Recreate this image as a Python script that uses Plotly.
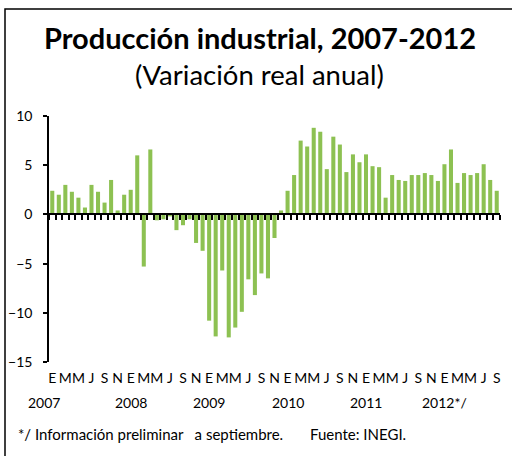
import plotly.graph_objects as go

# Monthly annual variation, Jan 2007 - Sep 2012
v2007 = [2.4, 2.0, 3.0, 2.3, 1.7, 0.7, 3.0, 2.3, 1.2, 3.5, 0.4, 2.0]
v2008 = [2.5, 6.0, -5.3, 6.6, -0.6, -0.5, -0.2, -1.6, -1.1, -0.5, -2.9, -3.7]
v2009 = [-10.8, -12.4, -5.7, -12.5, -11.5, -9.9, -6.6, -8.2, -6.0, -6.5, -2.4, 0.4]
v2010 = [2.4, 4.0, 7.5, 6.9, 8.8, 8.4, 4.6, 7.9, 7.1, 4.3, 6.1, 5.3]
v2011 = [6.1, 4.9, 4.8, 1.7, 4.0, 3.5, 3.4, 4.0, 4.0, 4.2, 4.0, 3.4]
v2012 = [5.1, 6.6, 3.2, 4.2, 4.0, 4.2, 5.1, 3.5, 2.4]

values = v2007 + v2008 + v2009 + v2010 + v2011 + v2012
idx = list(range(len(values)))

month_letters = ['E', 'F', 'M', 'A', 'M', 'J', 'J', 'A', 'S', 'O', 'N', 'D']
years = ['2007', '2008', '2009', '2010', '2011', '2012*/']

# every other month gets a letter
tick_pos = [i for i in idx if i % 2 == 0]
tick_txt = [month_letters[i % 12] for i in tick_pos]
year_pos = [i for i in idx if i % 12 == 0]

FONT = 'Lato'

fig = go.Figure()

fig.add_trace(go.Bar(
    x=idx, y=values,
    marker=dict(color='#8DC152', line=dict(width=0)),
    showlegend=False, hoverinfo='y'
))

# invisible trace so the zero-line axis gets drawn
fig.add_trace(go.Scatter(
    x=idx, y=values, xaxis='x2', mode='none',
    showlegend=False, hoverinfo='skip'
))

# px helpers for the frame (plot area 49..500 x, 116..362 y)
L, R, T, B = 49, 500, 116, 362
def px_x(p):
    return (p - L) / (R - L)
def px_y(p):
    return (B - p) / (B - T)

annotations = [
    dict(text='(Variación real anual)', xref='paper', yref='paper',
         x=px_x(259), y=px_y(75), xanchor='center', yanchor='middle',
         showarrow=False, font=dict(family=FONT, size=27.5, color='black')),
    dict(text='*/ Información preliminar   a septiembre.       Fuente: INEGI.',
         xref='paper', yref='paper', x=px_x(16), y=px_y(434),
         xanchor='left', yanchor='middle', showarrow=False,
         font=dict(family=FONT, size=15, color='black')),
]
for yr, pos in zip(years, year_pos):
    annotations.append(dict(
        text=yr, xref='x', yref='paper', x=pos, y=px_y(402),
        xanchor='center', yanchor='middle', showarrow=False,
        xshift=-8 if pos == 0 else 0,
        font=dict(family=FONT, size=14, color='black')))

fig.update_layout(
    width=512, height=456,
    margin=dict(l=L, r=512 - R, t=T, b=456 - B, autoexpand=False),
    paper_bgcolor='white', plot_bgcolor='white',
    bargap=0.38,
    title=dict(text='<b>Producción industrial, 2007-2012</b>',
               x=px_x(260), xref='paper', xanchor='center',
               y=1 - 39 / 456, yanchor='middle',
               font=dict(family=FONT, size=29, color='black')),
    xaxis=dict(range=[-0.5, len(values) - 0.5], tickvals=tick_pos, ticktext=tick_txt,
               showline=False, ticks='', showgrid=False, zeroline=False,
               tickangle=0, automargin=False,
               tickfont=dict(family=FONT, size=14, color='black'),
               ticklabelstandoff=6),
    xaxis2=dict(range=[-0.5, len(values) - 0.5], overlaying='x', anchor='free',
                position=0.6, showline=True, linecolor='black', linewidth=2,
                tickmode='array', tickvals=[i - 0.5 for i in idx] + [len(values) - 0.5],
                ticks='outside', ticklen=5, tickwidth=1.5, tickcolor='black',
                showticklabels=False, showgrid=False, zeroline=False, automargin=False),
    yaxis=dict(range=[-15, 10], dtick=5, showline=True, linecolor='black', linewidth=1.5,
               ticks='outside', ticklen=4, tickwidth=1.5, tickcolor='black',
               showgrid=False, zeroline=False, ticklabelstandoff=8, automargin=False,
               tickfont=dict(family=FONT, size=14, color='black')),
    shapes=[dict(type='rect', xref='paper', yref='paper',
                 x0=px_x(5), x1=px_x(520), y0=px_y(470), y1=px_y(9),
                 line=dict(color='black', width=1.5), layer='below')],
    annotations=annotations,
)

# drop the default page margin so the figure sits at the window origin
fig.write_html('out.html', config={'displayModeBar': False},
               post_script="document.body.style.margin='0';document.body.style.overflow='hidden';")
